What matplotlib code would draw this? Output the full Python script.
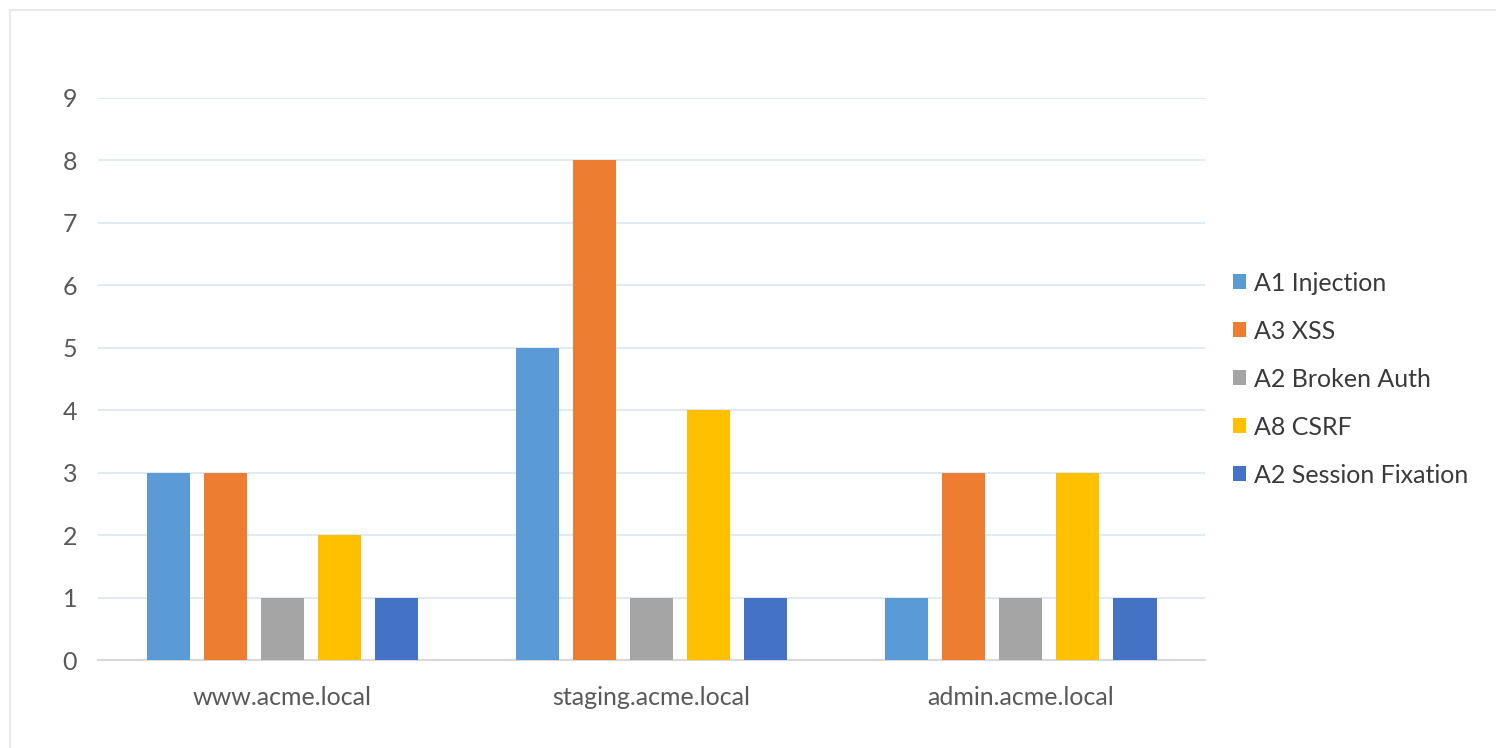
import numpy as np
import matplotlib.pyplot as plt
from matplotlib.patches import Rectangle

hosts = ['www.acme.local', 'staging.acme.local', 'admin.acme.local']
series = ['A1 Injection', 'A3 XSS', 'A2 Broken Auth', 'A8 CSRF', 'A2 Session Fixation']
injection = [3, 5, 1]
xss = [3, 8, 3]
broken_auth = [1, 1, 1]
csrf = [2, 4, 3]
session_fix = [1, 1, 1]
colors = ['#5B9BD5', '#ED7D31', '#A5A5A5', '#FFC000', '#4472C4']

plt.rcParams['font.family'] = ['Lato', 'DejaVu Sans']

fig = plt.figure(figsize=(14.96, 7.48), dpi=100)
ax = fig.add_axes([0.0655, 0.1176, 0.74, 0.7514])

x = np.arange(len(hosts))
step = 0.1545
width = 0.119
values = [injection, xss, broken_auth, csrf, session_fix]
for i, (name, vals) in enumerate(zip(series, values)):
    ax.bar(x + (i - 2) * step, vals, width, color=colors[i], label=name, zorder=3)

ax.set_xlim(-0.5, 2.5)
ax.set_ylim(0, 9)
ax.set_yticks(range(10))
ax.set_xticks(x)
ax.set_xticklabels(hosts)
ax.grid(axis='y', color='#DCE8F4', linewidth=1.3, zorder=0)
for s in ['top', 'right', 'left']:
    ax.spines[s].set_visible(False)
ax.spines['bottom'].set_color('#D9D9D9')
ax.spines['bottom'].set_linewidth(1.5)
ax.tick_params(axis='both', length=0, labelsize=18, labelcolor='#595959')
ax.tick_params(axis='y', pad=15)
ax.tick_params(axis='x', pad=19)

leg = ax.legend(loc='center left', bbox_to_anchor=(1.0, 0.5), frameon=False,
                fontsize=18, handlelength=0.55, handleheight=0.55,
                handletextpad=0.3, labelspacing=1.0, borderaxespad=0.7)
for t in leg.get_texts():
    t.set_color('#3A3A3A')

fig.patches.append(Rectangle((0.007, -0.1), 1.1, 1.087, transform=fig.transFigure,
                             fill=False, edgecolor='#E8E8E8', linewidth=1.5))

fig.savefig('out.png', dpi=100)
